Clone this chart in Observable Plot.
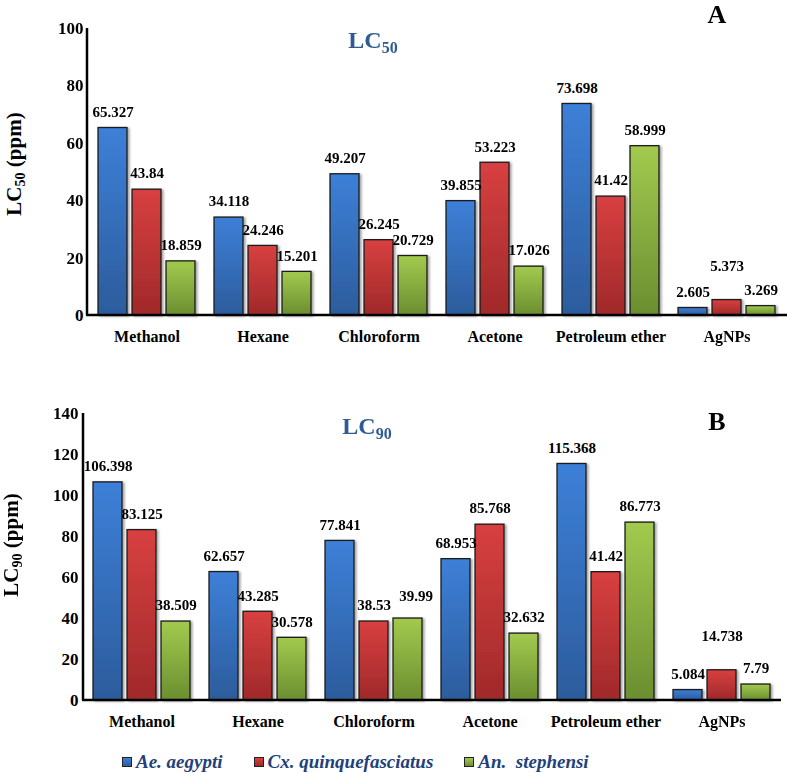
<!DOCTYPE html>
<html><head><meta charset="utf-8">
<script src="https://cdn.jsdelivr.net/npm/d3@7"></script>
<script src="https://cdn.jsdelivr.net/npm/@observablehq/plot@0.6"></script>
<style>
body{margin:0;background:#fff;}
#wrap{position:relative;width:787px;height:773px;overflow:hidden;font-family:"Liberation Serif","Times New Roman",serif;}
#wrap svg{display:block;}
.legend{position:absolute;top:750px;left:122px;display:flex;align-items:center;height:24px;font-size:19px;font-weight:bold;font-style:italic;color:#22407a;white-space:pre;}
.legend .item{display:flex;align-items:center;}
.legend .sw{width:10px;height:10px;border:1px solid #222;margin-right:4px;box-sizing:border-box;}
</style></head><body><div id="wrap"></div>
<script>
// ---- data ----
const categories = ["Methanol", "Hexane", "Chloroform", "Acetone", "Petroleum ether", "AgNPs"];
const species = ["Ae. aegypti", "Cx. quinquefasciatus", "An.  stephensi"];

const lc50Aegypti    = [65.327, 34.118, 49.207, 39.855, 73.698, 2.605];
const lc50Culex      = [43.84, 24.246, 26.245, 53.223, 41.42, 5.373];
const lc50Stephensi  = [18.859, 15.201, 20.729, 17.026, 58.999, 3.269];
const lc50AegyptiLabels   = ["65.327", "34.118", "49.207", "39.855", "73.698", "2.605"];
const lc50CulexLabels     = ["43.84", "24.246", "26.245", "53.223", "41.42", "5.373"];
const lc50StephensiLabels = ["18.859", "15.201", "20.729", "17.026", "58.999", "3.269"];

const lc90Aegypti    = [106.398, 62.657, 77.841, 68.953, 115.368, 5.084];
const lc90Culex      = [83.125, 43.285, 38.53, 85.768, 62.6, 14.738];
const lc90Stephensi  = [38.509, 30.578, 39.99, 32.632, 86.773, 7.79];
const lc90AegyptiLabels   = ["106.398", "62.657", "77.841", "68.953", "115.368", "5.084"];
const lc90CulexLabels     = ["83.125", "43.285", "38.53", "85.768", "41.42", "14.738"];
const lc90StephensiLabels = ["38.509", "30.578", "39.99", "32.632", "86.773", "7.79"];

const lc50Ticks = [0, 20, 40, 60, 80, 100];
const lc90Ticks = [0, 20, 40, 60, 80, 100, 120, 140];

const gradients = [
  {id: "gBlue",  top: "#3d80d8", bottom: "#2c5c9c"},
  {id: "gRed",   top: "#d84040", bottom: "#a0292a"},
  {id: "gGreen", top: "#a2ca4e", bottom: "#6b8e30"}
];

function rows(seriesValues, seriesLabels) {
  const out = [];
  categories.forEach((c, i) => {
    species.forEach((s, j) => {
      out.push({category: c, species: s, value: seriesValues[j][i], label: seriesLabels[j][i]});
    });
  });
  return out;
}

const wrap = document.getElementById("wrap");

// shared defs (gradients + shadow)
const defsSvg = d3.select(wrap).append("svg").attr("width", 0).attr("height", 0)
  .style("position", "absolute");
const defs = defsSvg.append("defs");
gradients.forEach(g => {
  const lg = defs.append("linearGradient").attr("id", g.id)
    .attr("x1", 0).attr("y1", 0).attr("x2", 0).attr("y2", 1);
  lg.append("stop").attr("offset", "0%").attr("stop-color", g.top);
  lg.append("stop").attr("offset", "100%").attr("stop-color", g.bottom);
});
const f = defs.append("filter").attr("id", "shadow").attr("x", "-20%").attr("y", "-20%").attr("width", "150%").attr("height", "140%");
f.append("feDropShadow").attr("dx", 2).attr("dy", 1).attr("stdDeviation", 1.2)
  .attr("flood-color", "#000").attr("flood-opacity", 0.35);

function panel(opts) {
  const data = rows(opts.values, opts.labels);
  const isLifted = d => opts.lifted.includes(d.category + "|" + d.species);
  const isShifted = d => opts.shifted.includes(d.category + "|" + d.species);
  const svg = Plot.plot({
    width: 787,
    height: opts.height,
    marginTop: opts.marginTop,
    marginBottom: opts.marginBottom,
    marginLeft: opts.marginLeft,
    marginRight: opts.marginRight,
    style: {fontFamily: '"Liberation Serif","Times New Roman",serif', background: "transparent", color: "#000"},
    fx: {domain: categories, paddingInner: 0.143, paddingOuter: 0.077, label: null},
    x: {domain: species, paddingInner: 0.143, paddingOuter: 0, axis: null},
    y: {domain: [0, opts.yMax]},
    color: {domain: species, range: gradients.map(g => `url(#${g.id})`)},
    marks: [
      Plot.barY(data, {fx: "category", x: "species", y: "value", fill: "species", stroke: "#1a1a1a", strokeWidth: 1.3}),
      Plot.text(data.filter(d => !isLifted(d) && !isShifted(d)), {fx: "category", x: "species", y: "value", text: "label", dy: -16, fontSize: 15, fontWeight: "bold", fill: "#000"}),
      Plot.text(data.filter(isLifted), {fx: "category", x: "species", y: "value", text: "label", dy: -34, fontSize: 15, fontWeight: "bold", fill: "#000"}),
      Plot.text(data.filter(isShifted), {fx: "category", x: "species", y: "value", text: "label", dy: -22, dx: 8, fontSize: 15, fontWeight: "bold", fill: "#000"}),
      Plot.axisY({ticks: opts.ticks, tickSize: 0, tickPadding: 14, fontSize: 17, fontWeight: "bold", label: null, tickFormat: d => String(d)}),
      Plot.axisFx({anchor: "bottom", tickSize: 0, tickPadding: 15, fontSize: 16, fontWeight: "bold", label: null})
    ]
  });
  const s = d3.select(svg);
  s.selectAll('g[aria-label="bar"]').attr("filter", "url(#shadow)");
  const yr = svg.scale("y").range; // [bottom, top]
  const x0 = opts.marginLeft, x1 = 787 - opts.marginRight;
  // axis lines derived from scales
  s.append("line").attr("x1", x0).attr("x2", x0).attr("y1", yr[1]).attr("y2", yr[0])
    .attr("stroke", "#000").attr("stroke-width", 2.5);
  s.append("line").attr("x1", x0 - 1).attr("x2", x1).attr("y1", yr[0]).attr("y2", yr[0])
    .attr("stroke", "#000").attr("stroke-width", 2.5);
  // y-axis title with subscript
  const yt = s.append("text")
    .attr("transform", `translate(${opts.yTitleX},${opts.yTitleY}) rotate(-90)`)
    .attr("text-anchor", "middle").attr("font-size", 21).attr("font-weight", "bold").attr("fill", "#000");
  yt.append("tspan").text("LC");
  yt.append("tspan").attr("font-size", 14).attr("dy", 4).text(opts.sub);
  yt.append("tspan").attr("dy", -4).text(" (ppm)");
  // panel title
  const tt = s.append("text").attr("x", opts.titleX).attr("y", opts.titleY)
    .attr("font-size", 24).attr("font-weight", "bold").attr("fill", "#2f5b92");
  tt.append("tspan").text("LC");
  tt.append("tspan").attr("font-size", 16).attr("dy", 5).text(opts.sub);
  // panel letter
  s.append("text").attr("x", 717).attr("y", opts.letterY).attr("text-anchor", "middle")
    .attr("font-size", 26).attr("font-weight", "bold").attr("fill", "#000").text(opts.letter);
  return svg;
}

wrap.appendChild(panel({
  values: [lc50Aegypti, lc50Culex, lc50Stephensi],
  labels: [lc50AegyptiLabels, lc50CulexLabels, lc50StephensiLabels],
  yMax: 100, ticks: lc50Ticks,
  height: 350, marginTop: 28, marginBottom: 35, marginLeft: 87, marginRight: 0,
  lifted: ["AgNPs|Cx. quinquefasciatus"], shifted: [],
  sub: "50", yTitleX: 21, yTitleY: 164, titleX: 373, titleY: 48, letter: "A", letterY: 23
}));

wrap.appendChild(panel({
  values: [lc90Aegypti, lc90Culex, lc90Stephensi],
  labels: [lc90AegyptiLabels, lc90CulexLabels, lc90StephensiLabels],
  yMax: 140, ticks: lc90Ticks,
  height: 385, marginTop: 63, marginBottom: 35, marginLeft: 83, marginRight: 6,
  lifted: ["AgNPs|Cx. quinquefasciatus"], shifted: ["Chloroform|An.  stephensi"],
  sub: "90", yTitleX: 18, yTitleY: 195, titleX: 367, titleY: 84, letter: "B", letterY: 80
}));

// legend
const legend = d3.select(wrap).append("div").attr("class", "legend");
species.forEach((s, i) => {
  const it = legend.append("div").attr("class", "item").style("margin-right", i < 2 ? "31px" : "0");
  it.append("div").attr("class", "sw").style("background", `linear-gradient(${gradients[i].top}, ${gradients[i].bottom})`);
  it.append("span").text(s);
});
</script></body></html>
